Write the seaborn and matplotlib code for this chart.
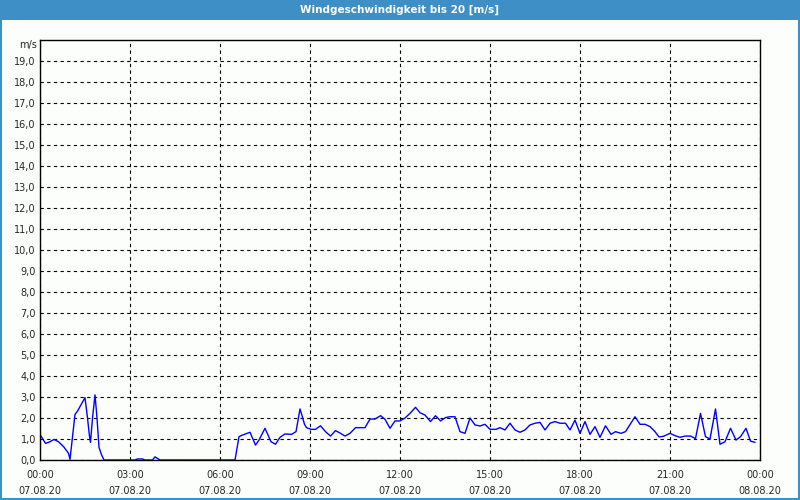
import numpy as np
import pandas as pd
import matplotlib
matplotlib.use("Agg")
import matplotlib.pyplot as plt
from matplotlib.patches import Rectangle
from matplotlib.ticker import MultipleLocator
import seaborn as sns

# Wind speed, 07.08.20 - minutes after midnight and m/s
minutes = [0, 11, 20, 28, 37, 47, 57, 60, 70, 75, 90, 95, 99, 101, 105, 110,
           114, 118, 123, 128, 190, 195, 205, 210, 225, 230, 240, 390,
           398, 403, 420, 431, 438, 450, 462, 471, 480, 490, 503, 512, 520,
           523, 529, 533, 542, 551, 561, 571, 581, 591, 601, 610, 620, 631,
           650, 660, 670, 681, 690, 700, 710, 720, 730, 740, 751, 760, 770,
           781, 791, 801, 811, 820, 830, 840, 850, 860, 870, 880, 890, 900,
           912, 920, 930, 940, 950, 960, 970, 980, 990, 1000, 1010, 1020,
           1030, 1040, 1051, 1060, 1070, 1080, 1090, 1100, 1110, 1120, 1131,
           1142, 1151, 1162, 1171, 1190, 1200, 1210, 1220, 1230, 1238, 1247,
           1260, 1270, 1280, 1290, 1301, 1311, 1321, 1331, 1340, 1351, 1360,
           1370, 1381, 1392, 1401, 1412, 1421, 1430]
speed = [1.22, 0.79, 0.87, 0.98, 0.87, 0.64, 0.32, 0.03, 2.17, 2.33, 2.97,
         2.0, 1.13, 0.84, 2.0, 3.1, 2.0, 0.6, 0.25, 0.0, 0.0, 0.05, 0.05,
         0.0, 0.0, 0.15, 0.0, 0.0,
         1.11, 1.17, 1.32, 0.71, 0.95, 1.51, 0.87, 0.75, 1.08, 1.24, 1.22,
         1.35, 2.43, 2.2, 1.7, 1.54, 1.46, 1.46, 1.63, 1.35, 1.14, 1.40,
         1.27, 1.14, 1.27, 1.54, 1.54, 1.95, 1.95, 2.11, 1.94, 1.51, 1.86,
         1.86, 2.0, 2.22, 2.51, 2.25, 2.14, 1.83, 2.11, 1.86, 2.02, 2.06,
         2.06, 1.35, 1.27, 2.0, 1.67, 1.62, 1.70, 1.46, 1.46, 1.54, 1.43,
         1.75, 1.43, 1.32, 1.43, 1.67, 1.75, 1.79, 1.43, 1.75, 1.83, 1.75,
         1.75, 1.43, 1.90, 1.27, 1.83, 1.22, 1.59, 1.08, 1.63, 1.22, 1.35,
         1.27, 1.35, 2.06, 1.70, 1.70, 1.59, 1.35, 1.10, 1.13, 1.27, 1.16,
         1.08, 1.14, 1.14, 1.02, 2.22, 1.11, 1.0, 2.43, 0.75, 0.87, 1.51,
         0.95, 1.11, 1.51, 0.9, 0.84]

tick_hours = [0, 3, 6, 9, 12, 15, 18, 21, 24]
tick_labels = ["00:00\n07.08.20", "03:00\n07.08.20", "06:00\n07.08.20",
               "09:00\n07.08.20", "12:00\n07.08.20", "15:00\n07.08.20",
               "18:00\n07.08.20", "21:00\n07.08.20", "00:00\n08.08.20"]
y_ticks = list(range(0, 20))
title = "Windgeschwindigkeit bis 20 [m/s]"

df = pd.DataFrame({"hour": np.array(minutes) / 60.0, "speed": speed})

sns.set_style("white")
plt.rcParams["font.family"] = ["DejaVu Sans"]

bg = "#fcfefc"
blue_bar = "#3d8fc6"

fig = plt.figure(figsize=(8, 5), dpi=100, facecolor=bg)
ax = fig.add_axes([0.05, 0.08, 0.90, 0.84], facecolor=bg)

sns.lineplot(data=df, x="hour", y="speed", ax=ax, color="#0000ff",
             linewidth=1.0, estimator=None)

ax.set_xlim(0, 24)
ax.set_ylim(0, 20)
ax.set_xlabel("")
ax.set_ylabel("")

ax.set_xticks(tick_hours)
ax.set_xticklabels(tick_labels, fontsize=7, linespacing=1.75)
ax.xaxis.set_minor_locator(MultipleLocator(1))
ax.set_yticks(y_ticks)
ax.set_yticklabels([f"{v:.1f}".replace(".", ",") for v in y_ticks], fontsize=7)

ax.tick_params(axis="x", which="both", direction="out", length=3, width=0.8,
               color="black", pad=4)
ax.tick_params(axis="y", length=0, pad=3)

ax.grid(True, which="major", color="black", linestyle=(0, (3, 3)), linewidth=0.8)
for s in ax.spines.values():
    s.set_color("black")
    s.set_linewidth(1.0)

ax.text(-0.004, 19.75, "m/s", transform=ax.get_yaxis_transform(),
        ha="right", va="center", fontsize=7)

# title bar and window frame
fig.patches.append(Rectangle((0, 0.96), 1, 0.04, transform=fig.transFigure,
                             facecolor=blue_bar, edgecolor="none", zorder=0))
fig.patches.append(Rectangle((0.001, 0.002), 0.998, 0.996, transform=fig.transFigure,
                             facecolor="none", edgecolor=blue_bar, linewidth=1.5))
fig.text(0.5, 0.98, title, ha="center", va="center", color="white",
         fontsize=7.5, fontweight="bold")

fig.savefig("out.png", dpi=100, facecolor=bg)
